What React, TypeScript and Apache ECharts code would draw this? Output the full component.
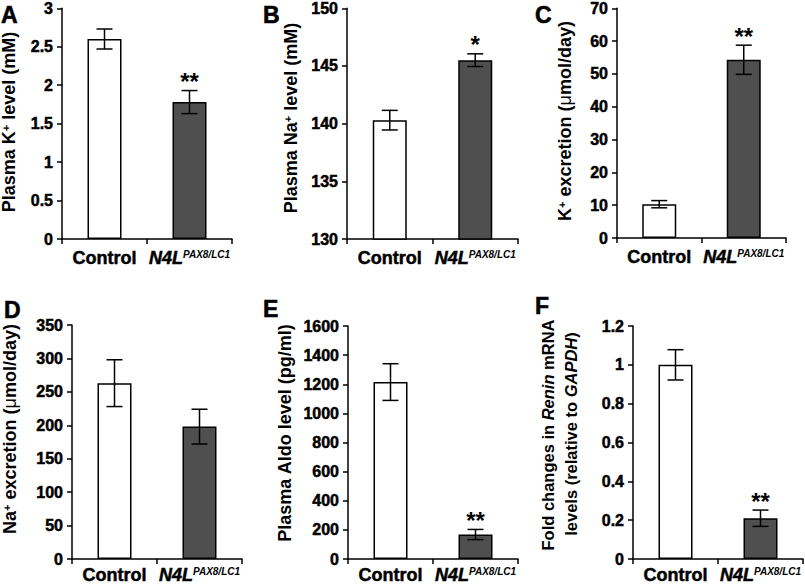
import React, { useEffect, useRef } from 'react';
import * as echarts from 'echarts';

const categories = ['Control', 'N4L'];
const panelLetters = ['A', 'B', 'C', 'D', 'E', 'F'];

// Panel values (mean, error, significance)
const meansA = [2.6, 1.78];
const errA = [0.13, 0.15];
const starsA = ['', '**'];
const meansB = [140.3, 145.5];
const errB = [0.85, 0.55];
const starsB = ['', '*'];
const meansC = [10.3, 54.3];
const errC = [1.1, 4.45];
const starsC = ['', '**'];
const meansD = [263, 198];
const errD = [35, 26];
const starsD = ['', ''];
const meansE = [1215, 168];
const errE = [126, 35];
const starsE = ['', '**'];
const meansF = [1.0, 0.21];
const errF = [0.078, 0.042];
const starsF = ['', '**'];

const yMin = [0, 130, 0, 0, 0, 0];
const yMax = [3, 150, 70, 350, 1600, 1.2];
const yInterval = [0.5, 5, 10, 50, 200, 0.2];

const allMeans = [meansA, meansB, meansC, meansD, meansE, meansF];
const allErr = [errA, errB, errC, errD, errE, errF];
const allStars = [starsA, starsB, starsC, starsD, starsE, starsF];

const barColors = ['#ffffff', '#4f4f4f'];

const FONT = '"Liberation Sans", Arial, Helvetica, sans-serif';
const HEAVY = { textBorderColor: '#000', textBorderWidth: 0.5 };

const grids = [
  { left: 62, top: 6, width: 170, height: 233 },
  { left: 347, top: 6, width: 171, height: 233 },
  { left: 617, top: 6, width: 169, height: 232 },
  { left: 72, top: 325, width: 170, height: 234 },
  { left: 348, top: 326, width: 170, height: 233 },
  { left: 633, top: 326, width: 170, height: 233 },
];
const xLabelMargin = [10, 10, 10, 7, 7, 7];

const letterPos = [
  [1, 15], [263, 15], [535, 15], [4, 310], [263, 309], [535, 306],
];

const makeRich = (size: number) => ({
  a: { fontFamily: FONT, fontWeight: 'bold', fontSize: size, fill: '#000' },
  i: { fontFamily: FONT, fontWeight: 'bold', fontStyle: 'italic', fontSize: size, fill: '#000' },
  m: { fontFamily: FONT, fontWeight: 'normal', fontSize: size, fill: '#000' },
  s: { fontFamily: FONT, fontWeight: 'bold', fontSize: 11, fill: '#000', verticalAlign: 'top' },
});

const yNames = [
  { text: '{a|Plasma K}{s|+}{a| level (mM)}', x: 9, y: 122, size: 18 },
  { text: '{a|Plasma Na}{s|+}{a| level (mM)}', x: 291, y: 118, size: 18 },
  { text: '{a|K}{s|+}{a| excretion (}{m|μ}{a|mol/day)}', x: 565, y: 121, size: 18 },
  { text: '{a|Na}{s|+}{a| excretion (}{m|μ}{a|mol/day)}', x: 10, y: 429, size: 18 },
  { text: '{a|Plasma Aldo level (pg/ml)}', x: 285, y: 433, size: 18 },
  { text: '{a|Fold changes in }{i|Renin}{a| mRNA}', x: 548, y: 435, size: 16.5 },
  { text: '{a|levels (relative to }{i|GAPDH}{a|)}', x: 571, y: 434, size: 16.5 },
];

export default function App() {
  const ref = useRef<HTMLDivElement>(null);
  useEffect(() => {
    if (!ref.current) return;
    const chart = echarts.init(ref.current, undefined, { renderer: 'svg' });

    const xAxes = grids.map((_, i) => ({
      type: 'category',
      gridIndex: i,
      data: categories,
      axisLine: { lineStyle: { color: '#000', width: 1.5 } },
      axisTick: { show: true, length: 5, lineStyle: { color: '#000', width: 1.5 } },
      axisLabel: {
        interval: 0,
        margin: xLabelMargin[i],
        color: '#000',
        formatter: (v: string) => (v === 'N4L' ? '{n|N4L}{s|PAX8/LC1}' : '{c|' + v + '}'),
        rich: {
          c: { fontFamily: FONT, fontWeight: 'bold', fontSize: 18, color: '#000', ...HEAVY },
          n: { fontFamily: FONT, fontWeight: 'bold', fontStyle: 'italic', fontSize: 18, color: '#000', ...HEAVY },
          s: { fontFamily: FONT, fontWeight: 'bold', fontStyle: 'italic', fontSize: 10, color: '#000', verticalAlign: 'top' },
        },
      },
      splitLine: { show: false },
    }));

    const yAxes = grids.map((_, i) => ({
      type: 'value',
      gridIndex: i,
      min: yMin[i],
      max: yMax[i],
      interval: yInterval[i],
      axisLine: { show: true, lineStyle: { color: '#000', width: 1.5 } },
      axisTick: { show: true, length: 5, lineStyle: { color: '#000', width: 1.5 } },
      axisLabel: {
        margin: 9,
        color: '#000',
        formatter: (v: number) => '{t|' + String(Math.round(v * 1000) / 1000) + '}',
        rich: {
          t: { fontFamily: FONT, fontWeight: 'bold', fontSize: 16, color: '#000', ...HEAVY },
        },
      },
      splitLine: { show: false },
    }));

    const barSeries = grids.map((_, i) => ({
      type: 'bar',
      xAxisIndex: i,
      yAxisIndex: i,
      barWidth: 34,
      data: allMeans[i].map((v, j) => ({
        value: v,
        itemStyle: { color: barColors[j], borderColor: '#000', borderWidth: 1.5 },
      })),
      silent: true,
    }));

    const errSeries = grids.map((_, i) => ({
      type: 'custom',
      xAxisIndex: i,
      yAxisIndex: i,
      z: 5,
      silent: true,
      data: allMeans[i].map((v, j) => [j, v, allErr[i][j]]),
      renderItem: (params: any, api: any) => {
        const x = api.value(0);
        const m = api.value(1);
        const e = api.value(2);
        const top = api.coord([x, m + e]);
        const bot = api.coord([x, m - e]);
        const half = 8;
        const st = { stroke: '#000', lineWidth: 1.5 };
        const children: any[] = [
          { type: 'line', shape: { x1: top[0], y1: top[1], x2: bot[0], y2: bot[1] }, style: st },
          { type: 'line', shape: { x1: top[0] - half, y1: top[1], x2: top[0] + half, y2: top[1] }, style: st },
          { type: 'line', shape: { x1: bot[0] - half, y1: bot[1], x2: bot[0] + half, y2: bot[1] }, style: st },
        ];
        const star = allStars[i][params.dataIndex];
        if (star) {
          children.push({
            type: 'text',
            x: top[0],
            y: top[1] - 9,
            style: {
              text: star,
              align: 'center',
              verticalAlign: 'middle',
              fill: '#000',
              font: 'bold 24px ' + FONT,
            },
          });
        }
        return { type: 'group', children };
      },
    }));

    const graphics: any[] = [];
    panelLetters.forEach((l, i) => {
      graphics.push({
        type: 'text',
        x: letterPos[i][0],
        y: letterPos[i][1],
        style: { text: l, fill: '#000', font: 'bold 23px ' + FONT, align: 'left', verticalAlign: 'middle', stroke: '#000', lineWidth: 0.6 },
      });
    });
    yNames.forEach((n) => {
      graphics.push({
        type: 'text',
        x: n.x,
        y: n.y,
        rotation: Math.PI / 2,
        style: {
          text: n.text,
          rich: makeRich(n.size),
          fill: '#000',
          align: 'center',
          verticalAlign: 'middle',
          font: 'bold ' + n.size + 'px ' + FONT,
        },
      });
    });

    chart.setOption({
      animation: false,
      backgroundColor: '#fff',
      grid: grids.map((g) => ({ ...g, containLabel: false })),
      xAxis: xAxes,
      yAxis: yAxes,
      series: [...barSeries, ...errSeries],
      graphic: graphics,
    } as any);

    return () => chart.dispose();
  }, []);

  return (
    <div
      ref={ref}
      style={{ position: 'fixed', left: 0, top: 0, width: 805, height: 587, background: '#fff' }}
    />
  );
}
